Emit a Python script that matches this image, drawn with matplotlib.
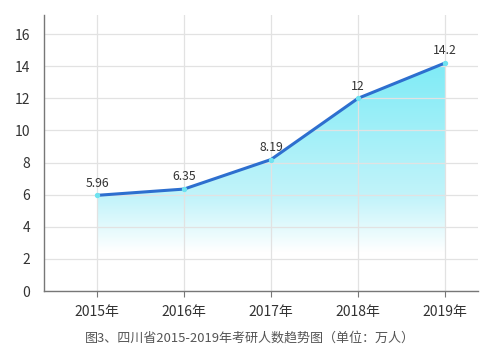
import numpy as np
import matplotlib
matplotlib.use('Agg')
import matplotlib.pyplot as plt
from matplotlib.colors import LinearSegmentedColormap

plt.rcParams['font.family'] = ['Noto Sans CJK SC', 'DejaVu Sans']

# data
years = ['2015年', '2016年', '2017年', '2018年', '2019年']
values = [5.96, 6.35, 8.19, 12, 14.2]
labels = ['5.96', '6.35', '8.19', '12', '14.2']
caption = '图3、四川省2015-2019年考研人数趋势图（单位：万人）'

fig = plt.figure(figsize=(5, 3.62), dpi=100)
ax = fig.add_axes([0.088, 0.196, 0.868, 0.763])

x = np.arange(len(years))
ax.set_xlim(-0.61, 4.38)
ax.set_ylim(0, 17.2)

# gradient fill under the line (white near the bottom, cyan towards the top)
cmap = LinearSegmentedColormap.from_list(
    'fade', [(0, '#ffffff'), (0.17, '#ffffff'), (0.4, '#c4f4fa'), (1, '#7eebf6')])
grad = np.linspace(0, 1, 256).reshape(-1, 1)
img = ax.imshow(grad, extent=[x[0], x[-1], 0, max(values)], origin='lower',
                aspect='auto', cmap=cmap, zorder=0.2)
poly = ax.fill_between(x, values, 0, color='none')
img.set_clip_path(poly.get_paths()[0], transform=ax.transData)

ax.plot(x, values, color='#2d6fcf', linewidth=2.2, zorder=3, solid_capstyle='round')
ax.scatter(x, values, s=8, color='#6fe3f0', zorder=4)

for xi, v, t in zip(x, values, labels):
    ax.text(xi, v + 0.35, t, ha='center', va='bottom', fontsize=8.8, color='#333333', zorder=5)

ax.set_xticks(x)
ax.set_xticklabels(years)
ax.set_yticks(range(0, 17, 2))
ax.tick_params(axis='y', length=0, labelsize=10, colors='#333333', pad=10)
ax.tick_params(axis='x', length=4, labelsize=10, colors='#777777', labelcolor='#333333', pad=6)

ax.grid(True, color='#e2e2e2', linewidth=0.9, zorder=0.5)
ax.set_axisbelow(True)
for s in ['top', 'right']:
    ax.spines[s].set_visible(False)
for s in ['left', 'bottom']:
    ax.spines[s].set_color('#777777')
    ax.spines[s].set_linewidth(1.0)

fig.text(0.5, 0.066, caption, ha='center', va='center', fontsize=9.4, color='#555555')

fig.savefig('out.png', dpi=100)
